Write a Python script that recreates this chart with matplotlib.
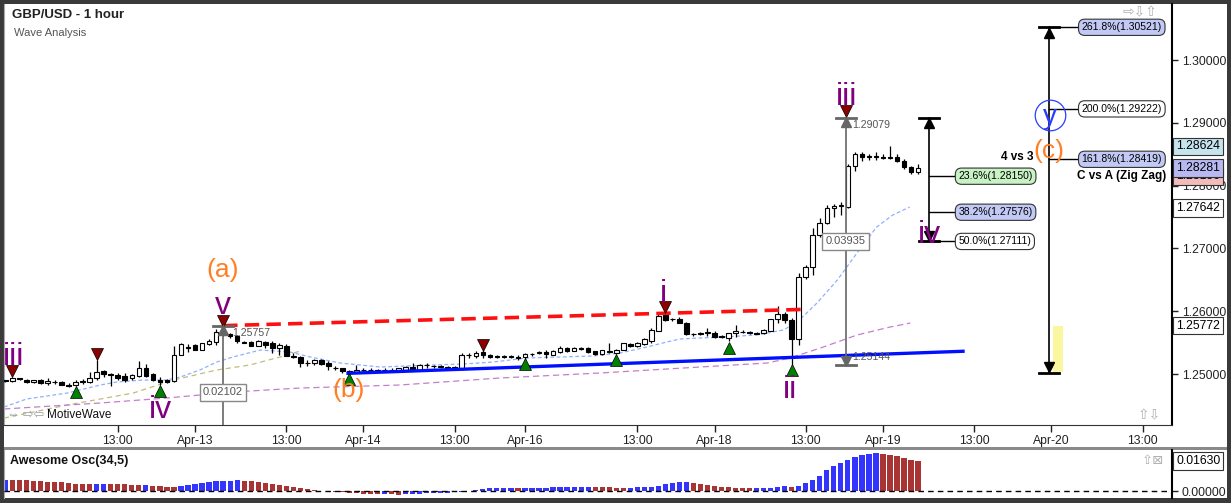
import matplotlib
matplotlib.use("Agg")
import matplotlib.pyplot as plt
import numpy as np
from matplotlib.patches import Rectangle

plt.rcParams['font.family'] = ['Liberation Sans', 'DejaVu Sans']

W, H = 1231, 503

# --- dados (indice de barra horaria, 0 = Apr-13 00:00) ---
bars = list(range(-27, 104))
opens = [1.2490, 1.2489, 1.2493, 1.2491, 1.2487, 1.2490, 1.2485, 1.2488, 1.2487, 1.2483,
         1.2482, 1.2489, 1.2488, 1.2493, 1.2504, 1.2500, 1.2498, 1.2497, 1.2493, 1.2497,
         1.2509, 1.2500, 1.2490, 1.2490, 1.2489, 1.2531, 1.2543, 1.2546, 1.2539, 1.2548,
         1.2551, 1.2568, 1.2563, 1.2560, 1.2551, 1.2551, 1.2545, 1.2551, 1.2550, 1.2541,
         1.2545, 1.2528, 1.2527, 1.2518, 1.2517, 1.2522, 1.2518, 1.2510, 1.2509, 1.2505,
         1.2503, 1.2507, 1.2506, 1.2506, 1.2506, 1.2507, 1.2505, 1.2507, 1.2511, 1.2506,
         1.2514, 1.2513, 1.2512, 1.2511, 1.2511, 1.2508, 1.2531, 1.2529, 1.2535, 1.2530,
         1.2528, 1.2527, 1.2528, 1.2527, 1.2527, 1.2532, 1.2533, 1.2535, 1.2531, 1.2535,
         1.2542, 1.2537, 1.2542, 1.2542, 1.2536, 1.2532, 1.2535, 1.2534, 1.2539, 1.2547,
         1.2544, 1.2547, 1.2553, 1.2569, 1.2594, 1.2587, 1.2588, 1.2582, 1.2564, 1.2564,
         1.2566, 1.2566, 1.2560, 1.2557, 1.2565, 1.2567, 1.2566, 1.2565, 1.2565, 1.2569,
         1.2587, 1.2595, 1.2586, 1.2556, 1.2654, 1.2670, 1.2721, 1.2740, 1.2765, 1.2768,
         1.2766, 1.2832, 1.2850, 1.2846, 1.2847, 1.2845, 1.2845, 1.2845, 1.2839, 1.2829,
         1.2821]
highs = [1.2491, 1.2496, 1.2493, 1.2492, 1.2491, 1.2492, 1.2493, 1.2490, 1.2489, 1.2485,
         1.2490, 1.2492, 1.2503, 1.2522, 1.2506, 1.2502, 1.2502, 1.2502, 1.2500, 1.2521,
         1.2516, 1.2501, 1.2496, 1.2492, 1.2545, 1.2550, 1.2548, 1.2548, 1.2550, 1.2555,
         1.2571, 1.25757, 1.2566, 1.2562, 1.2552, 1.2553, 1.2554, 1.2553, 1.2553, 1.2549,
         1.2547, 1.2533, 1.2528, 1.2523, 1.2524, 1.2524, 1.2520, 1.2512, 1.2510, 1.2506,
         1.2514, 1.2509, 1.2509, 1.2508, 1.2510, 1.2509, 1.2510, 1.2512, 1.2517, 1.2516,
         1.2518, 1.2515, 1.2514, 1.2513, 1.2512, 1.2534, 1.2534, 1.2536, 1.2538, 1.2532,
         1.2530, 1.2530, 1.2530, 1.2530, 1.2534, 1.2534, 1.2537, 1.2538, 1.2538, 1.2544,
         1.2543, 1.2543, 1.2543, 1.2543, 1.2537, 1.2539, 1.2550, 1.2540, 1.2550, 1.2549,
         1.2551, 1.2557, 1.2573, 1.2597, 1.2598, 1.2589, 1.2590, 1.2583, 1.2566, 1.2567,
         1.2573, 1.2568, 1.2562, 1.2566, 1.2578, 1.2570, 1.2569, 1.2567, 1.2571, 1.2588,
         1.2609, 1.2599, 1.2589, 1.2661, 1.2673, 1.2733, 1.2748, 1.2769, 1.2771, 1.2774,
         1.2835, 1.2853, 1.2853, 1.2851, 1.2853, 1.2850, 1.28624, 1.2851, 1.2843, 1.2832,
         1.2835]
lows = [1.2487, 1.2488, 1.2491, 1.2486, 1.2486, 1.2484, 1.2483, 1.2484, 1.2482, 1.2480,
        1.2481, 1.2484, 1.2486, 1.2490, 1.2496, 1.2481, 1.2491, 1.2488, 1.2490, 1.2496,
        1.2496, 1.2489, 1.2483, 1.2486, 1.2488, 1.2530, 1.2535, 1.2538, 1.2538, 1.2546,
        1.2546, 1.2561, 1.2558, 1.2550, 1.2549, 1.2544, 1.2544, 1.2541, 1.2533, 1.2530,
        1.2528, 1.2525, 1.2511, 1.2513, 1.2515, 1.2514, 1.2506, 1.2507, 1.2502, 1.2501,
        1.2501, 1.2504, 1.2504, 1.2503, 1.2504, 1.2504, 1.2503, 1.2505, 1.2504, 1.2505,
        1.2509, 1.2510, 1.2509, 1.2508, 1.2506, 1.2507, 1.2525, 1.2525, 1.2525, 1.2525,
        1.2525, 1.2525, 1.2525, 1.2522, 1.2520, 1.2529, 1.2532, 1.2525, 1.2530, 1.2534,
        1.2535, 1.2536, 1.2539, 1.2534, 1.2531, 1.2531, 1.2534, 1.2532, 1.2538, 1.2543,
        1.2543, 1.2546, 1.2550, 1.2568, 1.2584, 1.2585, 1.2581, 1.2562, 1.2561, 1.2562,
        1.2560, 1.2558, 1.2557, 1.2553, 1.2559, 1.2565, 1.2564, 1.2563, 1.2564, 1.2568,
        1.2581, 1.2581, 1.25144, 1.2546, 1.2652, 1.2657, 1.2718, 1.2739, 1.2750, 1.2754,
        1.2765, 1.2823, 1.2839, 1.2840, 1.2840, 1.2842, 1.2842, 1.2837, 1.2827, 1.2818,
        1.2819]
closes = [1.2489, 1.2493, 1.2492, 1.2487, 1.2490, 1.2485, 1.2489, 1.2487, 1.2483, 1.2481,
          1.2488, 1.2488, 1.2494, 1.2503, 1.2500, 1.2498, 1.2494, 1.2491, 1.2498, 1.2509,
          1.2497, 1.2490, 1.2488, 1.2488, 1.2531, 1.2548, 1.2541, 1.2539, 1.2549, 1.2553,
          1.2567, 1.2564, 1.2560, 1.2552, 1.2550, 1.2545, 1.2552, 1.2546, 1.2541, 1.2546,
          1.2529, 1.2527, 1.2518, 1.2517, 1.2522, 1.2516, 1.2512, 1.2509, 1.2504, 1.2502,
          1.2507, 1.2506, 1.2507, 1.2505, 1.2507, 1.2506, 1.2509, 1.2511, 1.2505, 1.2515,
          1.2515, 1.2512, 1.2511, 1.2510, 1.2508, 1.2531, 1.2530, 1.2534, 1.2531, 1.2527,
          1.2527, 1.2528, 1.2527, 1.2526, 1.2532, 1.2532, 1.2535, 1.2532, 1.2537, 1.2542,
          1.2536, 1.2542, 1.2540, 1.2535, 1.2532, 1.2538, 1.2536, 1.2539, 1.2549, 1.2544,
          1.2549, 1.2555, 1.2570, 1.2593, 1.2586, 1.2587, 1.2582, 1.2563, 1.2564, 1.2565,
          1.2567, 1.2559, 1.2559, 1.2565, 1.2568, 1.2567, 1.2566, 1.2564, 1.2570, 1.2587,
          1.2595, 1.2586, 1.2556, 1.2655, 1.2670, 1.2721, 1.2740, 1.2765, 1.2768, 1.2769,
          1.2832, 1.2850, 1.2845, 1.2847, 1.2846, 1.2844, 1.2844, 1.2839, 1.2829, 1.2821,
          1.28281]

ao_values = [0.0062, 0.0061, 0.0060, 0.0059, 0.0056, 0.0054, 0.0051, 0.0049, 0.0047, 0.0043,
             0.0040, 0.0038, 0.00378, 0.00380, 0.00382, 0.00380, 0.00378, 0.00376, 0.0034, 0.0033,
             0.0034, 0.0029, 0.0027, 0.0024, 0.0022, 0.0027, 0.0033, 0.0040, 0.0045, 0.0051,
             0.0052, 0.0054, 0.0055, 0.0060, 0.0056, 0.0054, 0.0051, 0.0045, 0.0038, 0.0033,
             0.0027, 0.0022, 0.0016, 0.0013, 0.0007, 0.0002, -0.0002, -0.0005, -0.0007, -0.0011,
             -0.0012, -0.0016, -0.0018, -0.00185, -0.0018, -0.00185, -0.0019, -0.0018, -0.00175, -0.0016,
             -0.0013, -0.0011, -0.00105, -0.0009, -0.0007,
             -0.0005, -0.0002, 0.0005, 0.0011, 0.0016, 0.00165, 0.0017, 0.00175, 0.0017, 0.00172,
             0.00174, 0.00176, 0.00178, 0.0022, 0.00222, 0.00224, 0.00226, 0.00228, 0.0023, 0.00228,
             0.00226, 0.00224, 0.0017, 0.00165, 0.0017, 0.0022, 0.00222, 0.00224, 0.0027, 0.0038,
             0.0043, 0.0049, 0.00495, 0.0043, 0.0038, 0.0033, 0.0027, 0.0022, 0.00215, 0.0016,
             0.00158, 0.00156, 0.0016, 0.00162, 0.00164, 0.0022, 0.0027, 0.0022, 0.0027, 0.0043,
             0.0060, 0.0081, 0.0114, 0.0136, 0.0152, 0.0168, 0.0185, 0.0195, 0.0201, 0.0206,
             0.0201, 0.0195, 0.0190, 0.0179, 0.0168, 0.0163]

# medias moveis (pontos lidos)
ma_fast_x = [-27.2, -24, -18.2, -13.5, -11.1, -7.4, -4, -2.1, 0.7, 3.1, 5.4, 9.3, 13.5, 16.4,
             20.7, 26.4, 33.5, 38.2, 42.5, 47.3, 52, 56.7, 60.5, 64.4, 67.2, 69.1, 71.9, 75.2,
             80, 83.8, 85.8, 88.6, 91.5, 94.3, 97.1, 99.4, 101.8]
ma_fast_y = [1.24474, 1.24602, 1.24697, 1.24825, 1.24873, 1.24904, 1.24904, 1.24952, 1.25064,
             1.25191, 1.25271, 1.25382, 1.25350, 1.25271, 1.25175, 1.25111, 1.25143, 1.25159,
             1.25191, 1.25255, 1.25271, 1.25287, 1.25334, 1.25430, 1.25510, 1.25557, 1.25573,
             1.25589, 1.25621, 1.25701, 1.25828, 1.26131, 1.26497, 1.26927, 1.27341, 1.27532,
             1.27659]
ma_mid_x = [-27.2, -18.2, -8.8, -3.1, 3.1, 7.8, 12.1, 15]
ma_mid_y = [1.24299, 1.24506, 1.24697, 1.24904, 1.25064, 1.25143, 1.25271, 1.25366]
ma_slow_x = [-27.2, -13.5, -4, 5.4, 15, 29.2, 43.4, 57.7, 71.9, 81.5, 84.8, 89.5, 94.3, 99, 101.9]
ma_slow_y = [1.24443, 1.24538, 1.24618, 1.24713, 1.24777, 1.24825, 1.24936, 1.25016, 1.25111,
             1.25175, 1.25255, 1.25430, 1.25621, 1.25748, 1.25812]

# marcadores de pivos
topos_x = [-26, -14, 4, 41, 67, 92.8]
topos_y = [1.25053, 1.25318, 1.25849, 1.25462, 1.26067, 1.29193]
fundos_x = [-17, -5, 22, 47, 60, 76, 85]
fundos_y = [1.24710, 1.24737, 1.24928, 1.25166, 1.25229, 1.25420, 1.25064]

# rotulos de ondas: (texto, x, y de base)
ondas_roxas = [("iii", -25.9, 1.2514), ("iv", -4.9, 1.2430), ("v", 4, 1.2595),
               ("i", 66.7, 1.2614), ("ii", 84.8, 1.2462), ("iii", 92.8, 1.2928),
               ("iv", 104.6, 1.2708)]
ondas_laranja = [("(a)", 4, 1.26538), ("(b)", 21.9, 1.2463), ("(c)", 121.7, 1.28444)]

tick_pos = [-11, 0, 13, 24, 37, 47, 63, 74, 87, 98, 111, 122, 135]
tick_lbl = ["13:00", "Apr-13", "13:00", "Apr-14", "13:00", "Apr-16", "13:00", "Apr-18",
            "13:00", "Apr-19", "13:00", "Apr-20", "13:00"]

price_ticks = [1.25, 1.26, 1.27, 1.28, 1.29, 1.30]

retr_levels = [1.28150, 1.27576, 1.27111]
retr_labels = ["23.6%(1.28150)", "38.2%(1.27576)", "50.0%(1.27111)"]
ext_levels = [1.30521, 1.29222, 1.28419]
ext_labels = ["261.8%(1.30521)", "200.0%(1.29222)", "161.8%(1.28419)"]

axis_tags = [(1.28624, "1.28624", "#c6e4ee"), (1.28156, "1.28156", "#f2bcbc"),
             (1.28281, "1.28281", "#b9b9f2"), (1.27642, "1.27642", "white"),
             (1.25772, "1.25772", "white")]

XMIN, XMAX = -27.21, 139.17


def px_rect(x0, y0, x1, y1):
    return [x0 / W, 1 - y1 / H, (x1 - x0) / W, (y1 - y0) / H]


fig = plt.figure(figsize=(W / 100, H / 100), dpi=100, facecolor="#3a3a3a")
for (x0, y0, x1, y1, cor) in [(4, 4, 1227, 447, "white"), (4, 450, 1227, 498, "white"),
                              (4, 447, 1227, 450, "#8a8a8a")]:
    fig.patches.append(Rectangle((x0 / W, 1 - y1 / H), (x1 - x0) / W, (y1 - y0) / H,
                                 transform=fig.transFigure, facecolor=cor, edgecolor="none", zorder=-10))

ax = fig.add_axes(px_rect(4, 4, 1172, 425))
ax.set_facecolor("white")
ax.set_xlim(XMIN, XMAX)
ax.set_ylim(1.24188, 1.30892)

# --- velas ---
x = np.array(bars)
o = np.array(opens)
c = np.array(closes)
ax.vlines(x, lows, highs, color="black", lw=0.9, zorder=3)
corpo = np.maximum(np.abs(c - o), 0.00003)
base = np.minimum(o, c)
cores = ["white" if cc >= oo else "black" for oo, cc in zip(o, c)]
ax.bar(x, corpo, bottom=base, width=0.66, color=cores, edgecolor="black", linewidth=0.8, zorder=4)

# medias
ax.plot(ma_fast_x, ma_fast_y, color="#8fb0ff", lw=0.9, ls=(0, (3, 2)), zorder=2)
ax.plot(ma_mid_x, ma_mid_y, color="#c2bb7a", lw=0.9, ls=(0, (4, 3)), zorder=2)
ax.plot(ma_slow_x, ma_slow_y, color="#c47fcc", lw=0.9, ls=(0, (5, 3)), zorder=2)

# linhas de tendencia
ax.plot([4, 87], [1.2577, 1.2603], color="#ff1010", lw=2.6, dashes=(4, 2), zorder=5)
ax.plot([21.8, 109.4], [1.25011, 1.25362], color="#0010ff", lw=2.4, zorder=5)

# pivos
ax.plot(topos_x, topos_y, 'v', ms=8, mfc="#8b0000", mec="black", mew=0.5, ls="none", zorder=6)
ax.plot(fundos_x, fundos_y, '^', ms=8, mfc="#008000", mec="black", mew=0.5, ls="none", zorder=6)

# --- medicoes cinzas ---
cinza = "#666666"
ax.plot([4, 4], [1.23655, 1.25757], color=cinza, lw=1.2, zorder=5)
ax.plot([2.6, 5.4], [1.25757, 1.25757], color=cinza, lw=2, zorder=5)
ax.plot([4], [1.2570], '^', ms=7, color=cinza, zorder=6)
ax.text(5.3, 1.25653, "1.25757", fontsize=7.6, color="#555555", va="center", ha="left", zorder=7)
ax.text(4, 1.24706, "0.02102", fontsize=8, color="#555555", ha="center", va="center", zorder=7,
        bbox=dict(boxstyle="square,pad=0.3", fc="white", ec="#888888", lw=1))

mx = 92.7
ax.plot([mx, mx], [1.25144, 1.29079], color=cinza, lw=1.2, zorder=5)
ax.plot([mx - 1.4, mx + 1.4], [1.29079, 1.29079], color=cinza, lw=2, zorder=5)
ax.plot([mx - 1.4, mx + 1.4], [1.25144, 1.25144], color=cinza, lw=2, zorder=5)
ax.plot([mx], [1.2902], '^', ms=7, color=cinza, zorder=6)
ax.plot([mx], [1.2520], 'v', ms=7, color=cinza, zorder=6)
ax.text(mx + 0.9, 1.28965, "1.29079", fontsize=7.6, color="#555555", va="center", ha="left", zorder=7)
ax.text(mx + 0.9, 1.25271, "1.25144", fontsize=7.6, color="#555555", va="center", ha="left", zorder=7)
ax.text(mx, 1.271115, "0.03935", fontsize=8, color="#555555", ha="center", va="center", zorder=7,
        bbox=dict(boxstyle="square,pad=0.3", fc="white", ec="#888888", lw=1))

# --- retracao fibonacci ---
rx = 104.55
ax.plot([rx, rx], [1.27111, 1.29079], color="black", lw=1.2, zorder=5)
ax.plot([rx - 1.45, rx + 1.45], [1.29079, 1.29079], color="black", lw=2, zorder=5)
ax.plot([rx - 1.45, rx + 1.45], [1.27111, 1.27111], color="black", lw=2, zorder=5)
ax.plot([rx], [1.2899], '^', ms=7, color="black", zorder=6)
ax.plot([rx], [1.2719], 'v', ms=7, color="black", zorder=6)
retr_cores = ["#c9f2c4", "#c2c9f5", "white"]
for nivel, rot, fc in zip(retr_levels, retr_labels, retr_cores):
    ax.plot([rx, 108.3], [nivel, nivel], color="black", lw=1, zorder=5)
    ax.text(108.75, nivel, rot, fontsize=7.5, ha="left", va="center", zorder=7,
            bbox=dict(boxstyle="round,pad=0.3,rounding_size=0.6", fc=fc, ec="#333333", lw=0.8))

# --- extensao fibonacci ---
ex = 121.65
ax.add_patch(Rectangle((122.2, 1.2503), 1.4, 0.0073, facecolor="#fbf6a0", edgecolor="none", zorder=3))
ax.plot([ex, ex], [1.25018, 1.30521], color="black", lw=1.2, zorder=5)
ax.plot([ex - 1.45, ex + 1.45], [1.30521, 1.30521], color="black", lw=2, zorder=5)
ax.plot([ex - 1.45, ex + 1.45], [1.25018, 1.25018], color="black", lw=2, zorder=5)
ax.plot([ex], [1.3043], '^', ms=7, color="black", zorder=6)
ax.plot([ex], [1.2511], 'v', ms=7, color="black", zorder=6)
ext_cores = ["#c2c9f5", "white", "#c2c9f5"]
for nivel, rot, fc in zip(ext_levels, ext_labels, ext_cores):
    ax.plot([ex, 125.8], [nivel, nivel], color="black", lw=1, zorder=5)
    ax.text(126.3, nivel, rot, fontsize=7.5, ha="left", va="center", zorder=7,
            bbox=dict(boxstyle="round,pad=0.3,rounding_size=0.6", fc=fc, ec="#333333", lw=0.8))
ax.text(119.4, 1.28455, "4 vs 3", fontsize=8.5, fontweight="bold", ha="right", va="center", zorder=7)
ax.text(125.7, 1.2815, "C vs A (Zig Zag)", fontsize=8.5, fontweight="bold", ha="left", va="center", zorder=7)

# circulo y
ax.plot([121.8], [1.2912], 'o', ms=22, mfc="none", mec="#2a3cff", mew=0.9, zorder=7)
ax.text(121.8, 1.2910, "y", fontsize=20, color="#2a3cff", ha="center", va="center", zorder=8)

# rotulos das ondas
for txt, xx, yy in ondas_roxas:
    ax.text(xx, yy, txt, fontsize=23, color="#800080", ha="center", va="baseline", zorder=8)
for txt, xx, yy in ondas_laranja:
    ax.text(xx, yy, txt, fontsize=19, color="#ff7f27", ha="center", va="baseline", zorder=8)

# eixos
ax.set_xticks(tick_pos)
ax.set_xticklabels(tick_lbl)
ax.yaxis.tick_right()
ax.set_yticks(price_ticks)
ax.set_yticklabels(["%.5f" % p for p in price_ticks])
ax.tick_params(axis="x", direction="out", length=5, width=1, labelsize=8.7, pad=2, colors="#222222")
ax.tick_params(axis="y", direction="out", length=4, width=1, labelsize=8.8, pad=3, colors="#222222")
ax.spines["top"].set_visible(False)
ax.spines["left"].set_color("#aaaaaa")
ax.spines["bottom"].set_color("#333333")
ax.spines["right"].set_color("black")
ax.spines["right"].set_linewidth(1.5)

for preco, txt, fc in axis_tags:
    ax.text(1.0035, preco, txt, transform=ax.get_yaxis_transform(), ha="left", va="center",
            fontsize=8.8, zorder=10, clip_on=False,
            bbox=dict(boxstyle="square,pad=0.22", fc=fc, ec="#333333", lw=0.8))

# icones e titulos
fig.text(12 / W, 1 - 15 / H, "GBP/USD - 1 hour", fontsize=9.5, fontweight="bold", va="center", color="#222222")
fig.text(14 / W, 1 - 33 / H, "Wave Analysis", fontsize=8, va="center", color="#555555")
fig.text(1123 / W, 1 - 12 / H, "⇨⇩⇧", fontsize=10, va="center", color="#b0b0b0")
fig.text(1138 / W, 1 - 415 / H, "⇧⇩", fontsize=10, va="center", color="#b0b0b0")
fig.text(7 / W, 1 - 415 / H, "⇔ ⇨⇦", fontsize=9, va="center", color="#9a9a9a")
fig.text(47 / W, 1 - 415 / H, "MotiveWave", fontsize=8.5, va="center", color="#111111")

# --- Awesome Oscillator ---
ax2 = fig.add_axes(px_rect(4, 450, 1172, 498))
ax2.set_facecolor("white")
ax2.set_xlim(XMIN, XMAX)
ax2.set_ylim(-0.0038, 0.02228)
ao = np.array(ao_values)
ao_cores = ["#3434ff"] + ["#3434ff" if ao[k] > ao[k - 1] else "#a83434" for k in range(1, len(ao))]
ax2.bar(bars, ao, width=0.74, color=ao_cores, linewidth=0, zorder=2)
ax2.axhline(0, color="black", lw=1, ls=(0, (4, 3)), zorder=3)
ax2.set_xticks([])
ax2.yaxis.tick_right()
ax2.set_yticks([0])
ax2.set_yticklabels(["0.00000"])
ax2.tick_params(axis="y", direction="out", length=4, width=1, labelsize=8.8, pad=3, colors="#222222")
for s in ["top", "bottom"]:
    ax2.spines[s].set_visible(False)
ax2.spines["left"].set_color("#aaaaaa")
ax2.spines["right"].set_color("black")
ax2.spines["right"].set_linewidth(1.5)
ax2.text(0.0052, 0.77, "Awesome Osc(34,5)", transform=ax2.transAxes, fontsize=9, fontweight="bold",
         va="center", ha="left", color="#111111")
ax2.text(1.0035, 0.0163, "0.01630", transform=ax2.get_yaxis_transform(), ha="left", va="center",
         fontsize=8.8, zorder=10, clip_on=False,
         bbox=dict(boxstyle="square,pad=0.22", fc="white", ec="#333333", lw=0.8))
fig.text(1142 / W, 1 - 461 / H, "⇧⊠", fontsize=9.5, va="center", color="#b0b0b0")

fig.savefig("out.png", dpi=100, facecolor=fig.get_facecolor())
